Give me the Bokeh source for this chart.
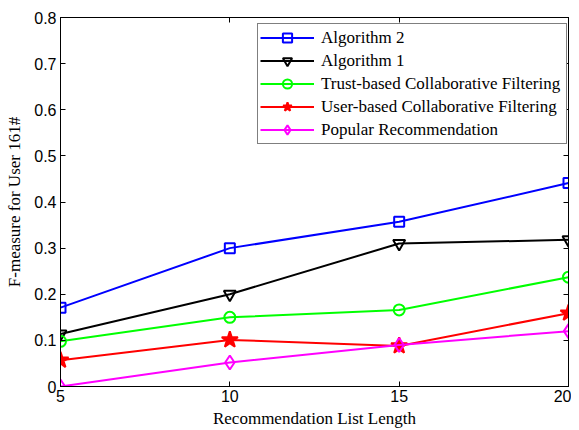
from bokeh.plotting import figure
from bokeh.models import LinearAxis, FixedTicker, Range1d, Legend
from bokeh.embed import file_html
from bokeh.resources import INLINE

x_vals = [5, 10, 15, 20]
alg2 = [0.171, 0.300, 0.357, 0.441]
alg1 = [0.114, 0.200, 0.310, 0.318]
trust_cf = [0.098, 0.150, 0.166, 0.237]
user_cf = [0.057, 0.101, 0.088, 0.159]
popular = [0.0, 0.052, 0.090, 0.120]

series = [
    ("Algorithm 2", alg2, "#0000FF", "square", 10),
    ("Algorithm 1", alg1, "#000000", "inverted_triangle", 12),
    ("Trust-based Collaborative Filtering", trust_cf, "#00FF00", "circle", 11),
    ("User-based Collaborative Filtering", user_cf, "#FF0000", "star", 17),
    ("Popular Recommendation", popular, "#FF00FF", "diamond", 14),
]

x_ticks = [5, 10, 15, 20]
y_ticks = [0, 0.1, 0.2, 0.3, 0.4, 0.5, 0.6, 0.7, 0.8]

p = figure(width=571, height=430, output_backend="svg", toolbar_location=None,
           x_range=Range1d(5, 20), y_range=Range1d(0, 0.8),
           min_border_left=60, min_border_right=3, min_border_top=17, min_border_bottom=43)
p.xgrid.visible = False
p.ygrid.visible = False
p.outline_line_color = "black"
p.outline_line_width = 1
p.background_fill_color = "white"
p.border_fill_color = "white"

def style_axis(ax):
    ax.axis_line_color = "black"
    ax.major_tick_in = 5
    ax.major_tick_out = 0
    ax.minor_tick_line_color = None
    ax.major_tick_line_color = "black"
    ax.major_label_text_font = "Liberation Sans"
    ax.major_label_text_font_size = "16px"
    ax.major_label_text_color = "black"
    ax.axis_label_text_font = "Liberation Serif"
    ax.axis_label_text_font_size = "17px"
    ax.axis_label_text_font_style = "normal"
    ax.axis_label_text_color = "black"

p.xaxis.ticker = FixedTicker(ticks=x_ticks)
p.yaxis.ticker = FixedTicker(ticks=y_ticks)
p.yaxis.major_label_overrides = {0: "0"}
style_axis(p.xaxis[0])
style_axis(p.yaxis[0])
p.xaxis.axis_label = "Recommendation List Length"
p.yaxis.axis_label = "F-measure for User 161#"
p.xaxis.major_label_standoff = 3
p.yaxis.major_label_standoff = 4
p.xaxis.axis_label_standoff = 4
p.yaxis.axis_label_standoff = 7

top = LinearAxis(ticker=FixedTicker(ticks=x_ticks),
                 major_label_overrides={t: "" for t in x_ticks})
style_axis(top)
top.major_label_standoff = 0
right = LinearAxis(ticker=FixedTicker(ticks=y_ticks),
                   major_label_overrides={t: "" for t in y_ticks})
style_axis(right)
right.major_label_standoff = 0
p.add_layout(top, "above")
p.add_layout(right, "right")

items = []
for name, vals, color, marker, msize in series:
    r1 = p.line(x_vals, vals, line_color=color, line_width=2)
    r2 = p.scatter(x_vals, vals, marker=marker, size=msize, line_color=color,
                   fill_color=color if marker == "star" else None, line_width=2)
    items.append((name, [r1, r2]))

legend = Legend(items=items, location=(197, 242))
legend.label_text_font = "Liberation Serif"
legend.label_text_font_size = "17px"
legend.label_text_color = "black"
legend.glyph_width = 54
legend.glyph_height = 23
legend.label_height = 23
legend.label_width = 243
legend.spacing = 0
legend.padding = 2
legend.margin = 0
legend.label_standoff = 7
legend.border_line_color = "black"
legend.border_line_width = 1
legend.background_fill_alpha = 1
p.add_layout(legend, "center")

open("out.html", "w").write(file_html(p, INLINE))
